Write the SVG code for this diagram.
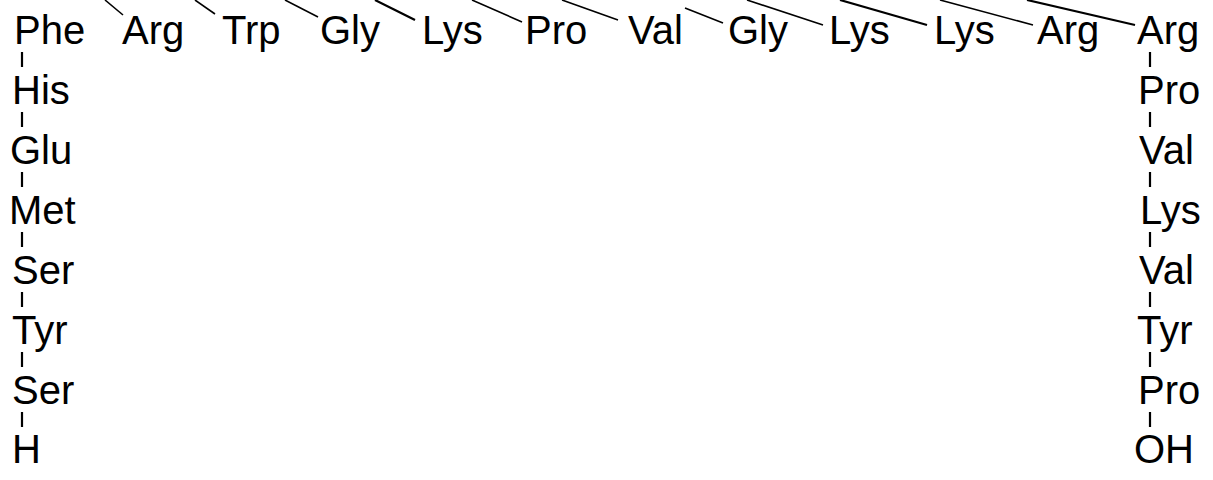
<svg xmlns="http://www.w3.org/2000/svg" width="1213" height="480" viewBox="0 0 1213 480">
<style>
text{font-family:"Liberation Sans",Arial,sans-serif;font-size:40px;fill:#000}
.b{stroke:#000;stroke-width:1.6;fill:none}
.t{stroke:#000;stroke-width:2.2;fill:none}
</style>
<rect width="1213" height="480" fill="#fff"/>
<g id="connectors">
<line class="b" x1="105" y1="0" x2="123" y2="15"/>
<line class="b" x1="195" y1="0" x2="215" y2="14"/>
<line class="b" x1="285" y1="0" x2="318" y2="17"/>
<line class="t" x1="375" y1="0" x2="415" y2="20"/>
<line class="b" x1="472" y1="0" x2="522" y2="22"/>
<line class="b" x1="562" y1="0" x2="618" y2="20"/>
<line class="b" x1="685" y1="8" x2="723" y2="23"/>
<line class="b" x1="747" y1="0" x2="823" y2="25"/>
<line class="t" x1="840" y1="0" x2="927" y2="25"/>
<line class="b" x1="940" y1="0" x2="1033" y2="25"/>
<line class="t" x1="1027" y1="0" x2="1135" y2="25"/>
<line class="t" x1="22" y1="52" x2="22" y2="67"/>
<line class="t" x1="22" y1="112" x2="22" y2="127"/>
<line class="t" x1="22" y1="172" x2="22" y2="187"/>
<line class="t" x1="22" y1="232" x2="22" y2="247"/>
<line class="t" x1="22" y1="292" x2="22" y2="307"/>
<line class="t" x1="22" y1="352" x2="22" y2="367"/>
<line class="t" x1="22" y1="412" x2="22" y2="427"/>
<line class="t" x1="1150" y1="52" x2="1150" y2="67"/>
<line class="t" x1="1150" y1="112" x2="1150" y2="127"/>
<line class="t" x1="1150" y1="172" x2="1150" y2="187"/>
<line class="t" x1="1150" y1="232" x2="1150" y2="247"/>
<line class="t" x1="1150" y1="292" x2="1150" y2="307"/>
<line class="t" x1="1150" y1="352" x2="1150" y2="367"/>
<line class="t" x1="1150" y1="412" x2="1150" y2="427"/>
</g>
<g id="top-row">
<g id="n-phe"><text x="14" y="44">Phe</text></g>
<g id="n-arg1"><text x="122" y="44">Arg</text></g>
<g id="n-trp"><text x="222" y="44">Trp</text></g>
<g id="n-gly1"><text x="320" y="44">Gly</text></g>
<g id="n-lys1"><text x="422" y="44">Lys</text></g>
<g id="n-pro1"><text x="525" y="44">Pro</text></g>
<g id="n-val1"><text x="628" y="44">Val</text></g>
<g id="n-gly2"><text x="728" y="44">Gly</text></g>
<g id="n-lys2"><text x="829" y="44">Lys</text></g>
<g id="n-lys3"><text x="934" y="44">Lys</text></g>
<g id="n-arg2"><text x="1037" y="44">Arg</text></g>
<g id="n-arg3"><text x="1137" y="44">Arg</text></g>
</g>
<g id="left-col">
<g id="n-his"><text x="12" y="104">His</text></g>
<g id="n-glu"><text x="10" y="164">Glu</text></g>
<g id="n-met"><text x="9" y="224">Met</text></g>
<g id="n-ser1"><text x="12" y="284">Ser</text></g>
<g id="n-tyr1"><text x="12" y="344">Tyr</text></g>
<g id="n-ser2"><text x="12" y="404">Ser</text></g>
<g id="n-h"><text x="12" y="463">H</text></g>
</g>
<g id="right-col">
<g id="n-pro2"><text x="1138" y="104">Pro</text></g>
<g id="n-val2"><text x="1139" y="164">Val</text></g>
<g id="n-lys4"><text x="1140" y="224">Lys</text></g>
<g id="n-val3"><text x="1139" y="284">Val</text></g>
<g id="n-tyr2"><text x="1137" y="344">Tyr</text></g>
<g id="n-pro3"><text x="1138" y="404">Pro</text></g>
<g id="n-oh"><text x="1134" y="463">OH</text></g>
</g>
</svg>
